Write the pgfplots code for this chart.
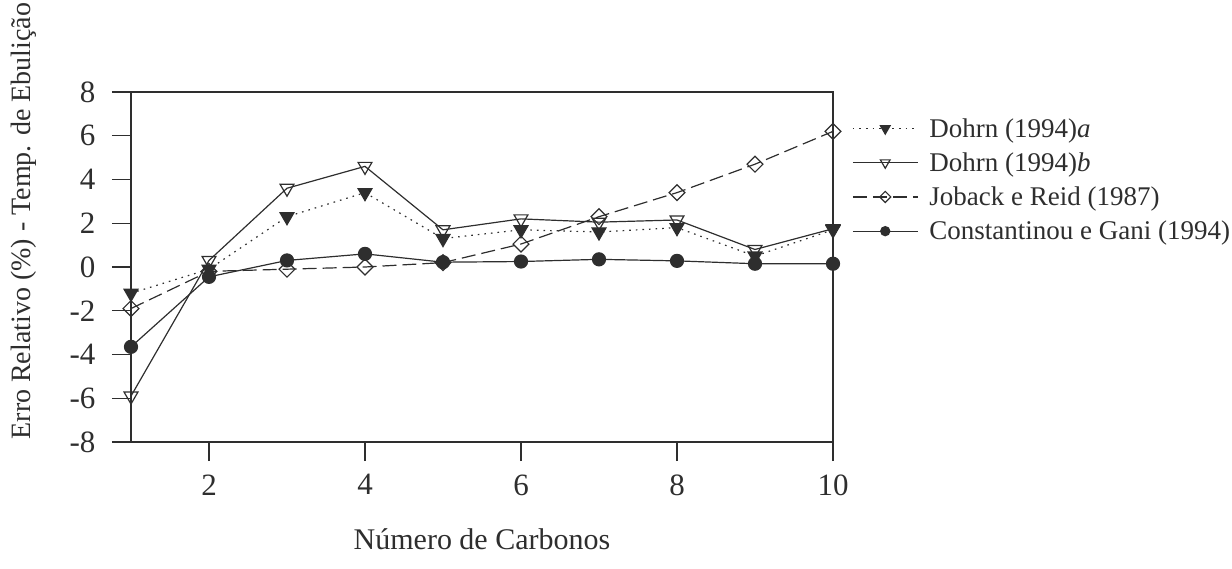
\documentclass[border=0pt]{standalone}
\usepackage{fontspec}
\setmainfont{Liberation Serif}
\usepackage{pgfplots}
\pgfplotsset{compat=1.18}
\definecolor{ink}{HTML}{2E2E2E}

\begin{document}
\begin{tikzpicture}[x=1pt,y=1pt]
\path[use as bounding box] (0,0) rectangle (1232,568);
\begin{axis}[
  at={(131pt,126pt)}, anchor=south west,
  scale only axis, width=702pt, height=350pt,
  xmin=1, xmax=10, ymin=-8, ymax=8,
  xtick={2,4,6,8,10}, ytick={-8,-6,...,8},
  tick align=outside, xtick pos=bottom, ytick pos=left,
  major tick length=19pt,
  axis line style={ink, line width=1.6pt},
  every tick/.style={ink, line width=1.4pt},
  /pgf/number format/assume math mode=true,
  ticklabel style={font=\fontsize{31}{33}\selectfont, text=ink},
  xticklabel style={yshift=-10pt},
  yticklabel style={xshift=-13pt},
  xlabel={Número de Carbonos},
  ylabel={Erro Relativo (\%) - Temp. de Ebulição},
  xlabel style={at={(axis description cs:0.5,-0.277)}, anchor=center,
    font=\fontsize{30}{32}\selectfont, text=ink},
  ylabel style={at={(axis description cs:-0.153,0.631)}, anchor=center,
    font=\fontsize{28}{30}\selectfont, text=ink},
  legend cell align=left,
  legend style={at={(axis description cs:1.027,0.931)}, anchor=north west,
    draw=none, fill=none, inner sep=0pt, row sep=10pt,
    font=\fontsize{27}{29}\selectfont, text=ink,
    /tikz/every odd column/.append style={column sep=9pt}},
  legend image code/.code={%
    \draw[mark repeat=2, mark phase=2, #1, every mark/.append style={scale=0.7}]
      plot coordinates {(0pt,0pt) (32.5pt,0pt) (65pt,0pt)};},
  every axis plot/.append style={ink, line width=1.2pt},
]
% Dohrn (1994) a
\addplot[dash pattern=on 1.6pt off 5pt, mark=triangle*, mark size=8pt,
  mark options={solid, rotate=180, fill=ink}] coordinates {
  (1,-1.2) (2,-0.1) (3,2.3) (4,3.4) (5,1.3) (6,1.7) (7,1.6) (8,1.8) (9,0.5) (10,1.7)};
\addlegendentry{Dohrn (1994)\textit{a}}
% Dohrn (1994) b
\addplot[solid, mark=triangle, mark size=8pt,
  mark options={solid, rotate=180, fill=white}] coordinates {
  (1,-5.9) (2,0.3) (3,3.6) (4,4.6) (5,1.7) (6,2.2) (7,2.05) (8,2.15) (9,0.8) (10,1.75)};
\addlegendentry{Dohrn (1994)\textit{b}}
% Joback e Reid (1987)
\addplot[dash pattern=on 14pt off 6pt, mark=square, mark size=5.6pt,
  mark options={solid, rotate=45, fill=white}] coordinates {
  (1,-1.9) (2,-0.2) (3,-0.1) (4,0.0) (5,0.2) (6,1.05) (7,2.3) (8,3.4) (9,4.7) (10,6.2)};
\addlegendentry{Joback e Reid (1987)}
% Constantinou e Gani (1994)
\addplot[solid, mark=*, mark size=6.5pt, mark options={fill=ink}] coordinates {
  (1,-3.65) (2,-0.45) (3,0.3) (4,0.6) (5,0.22) (6,0.25) (7,0.35) (8,0.28) (9,0.15) (10,0.15)};
\addlegendentry{Constantinou e Gani (1994)}
\end{axis}
\end{tikzpicture}
\end{document}
